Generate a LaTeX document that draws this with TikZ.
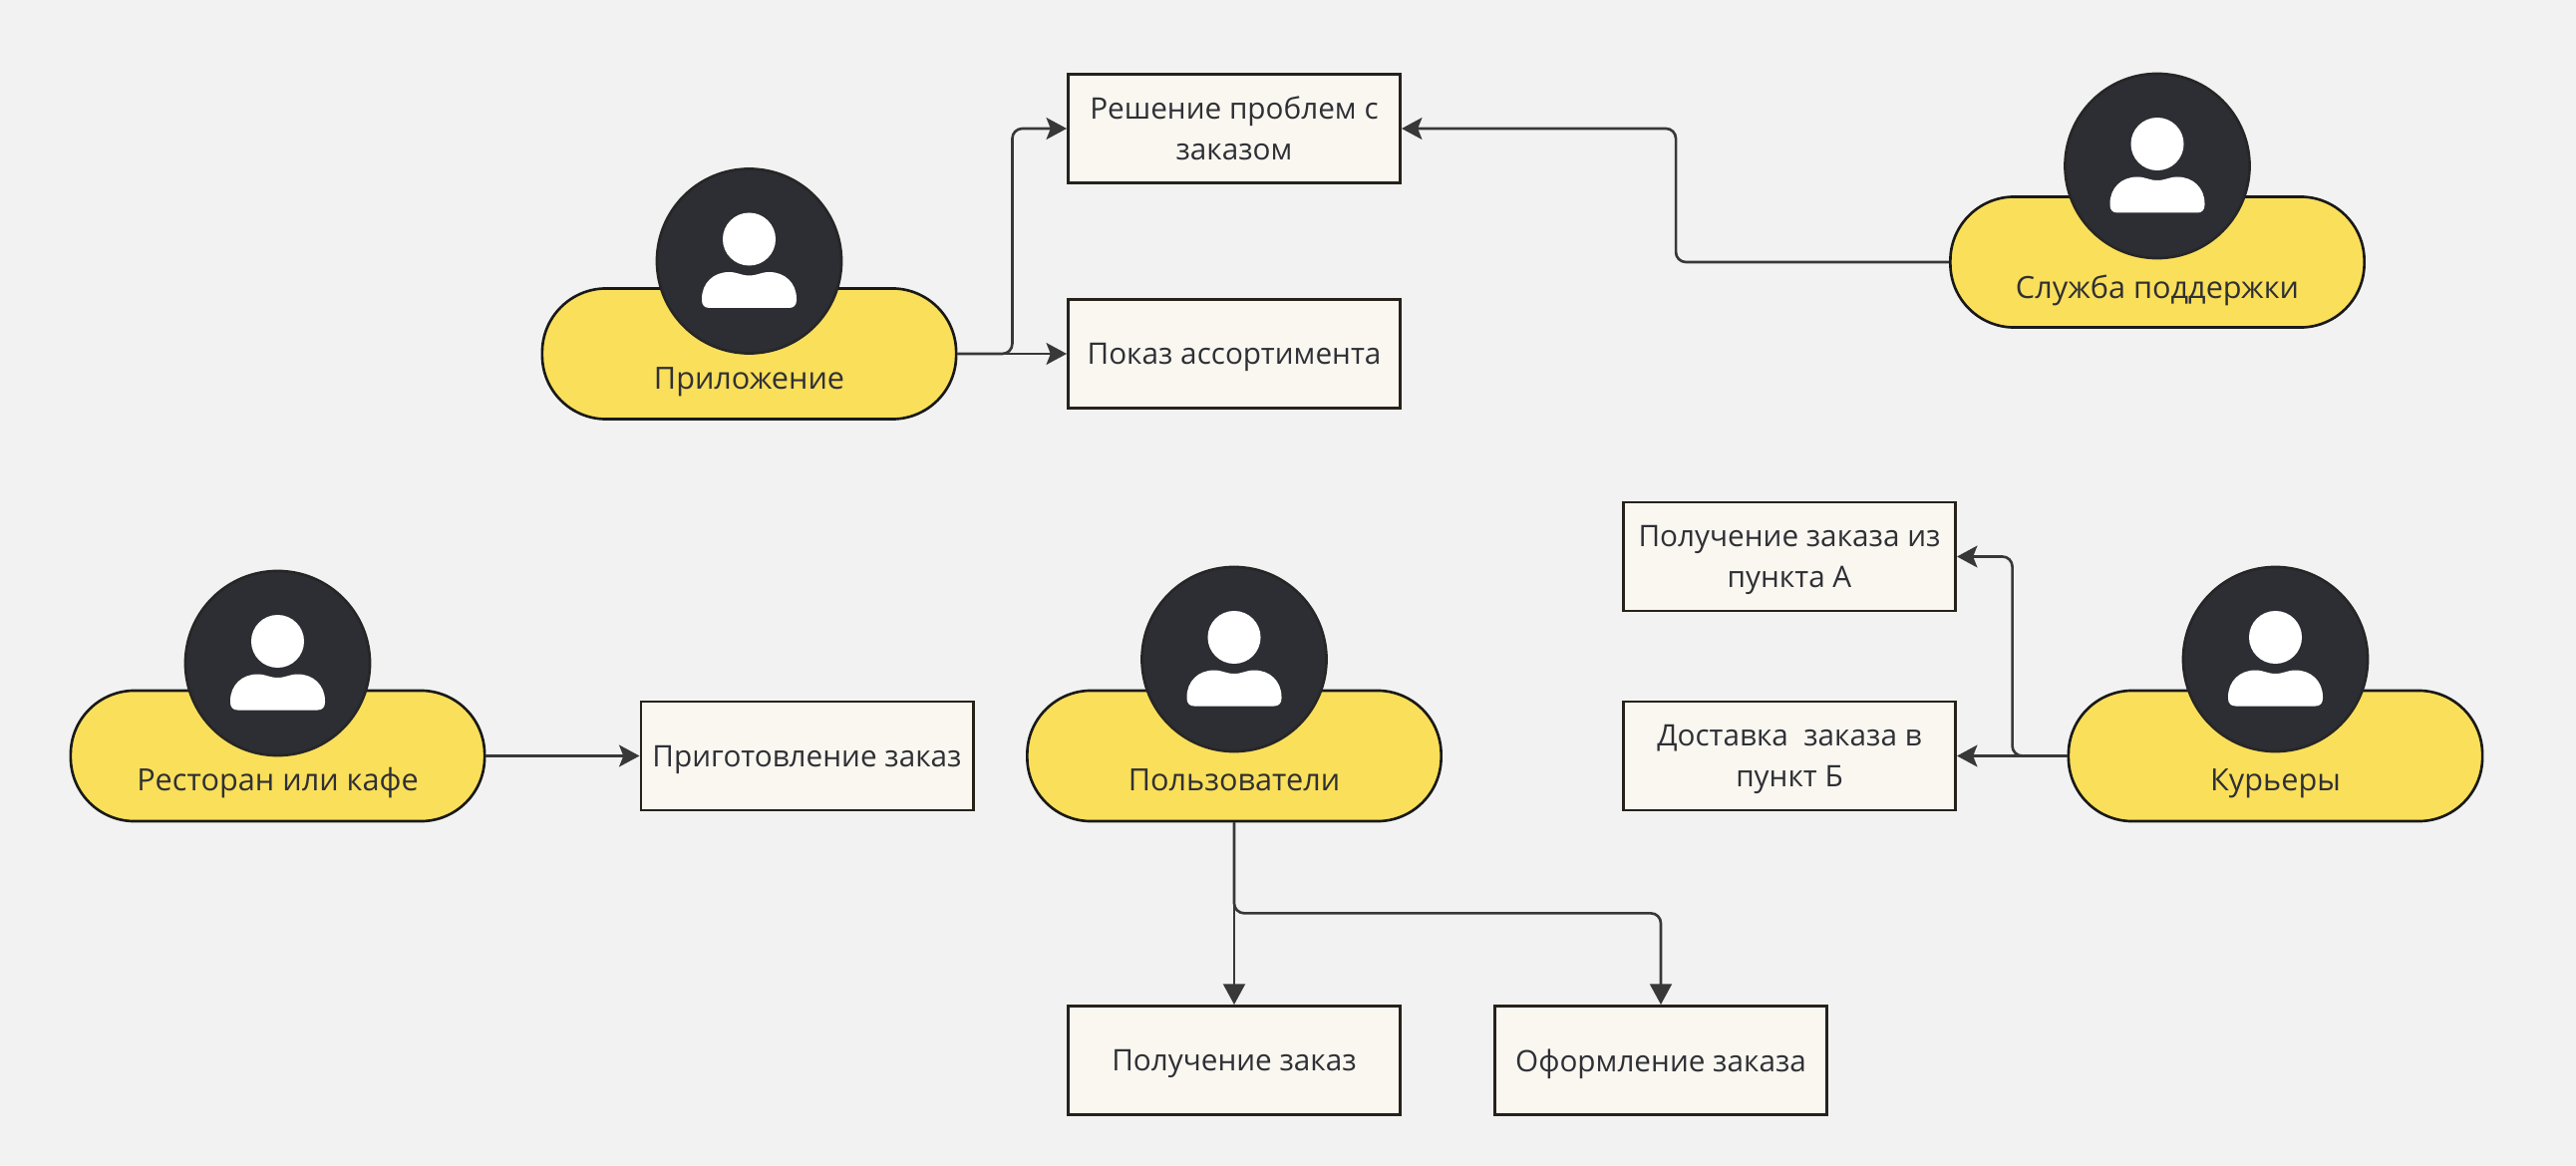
\documentclass[tikz,border=0pt]{standalone}
\usepackage{fontspec}
\setmainfont{Open Sans}
\usetikzlibrary{arrows.meta}

\definecolor{paper}{HTML}{F2F2F2}
\definecolor{pillfill}{HTML}{FADF5A}
\definecolor{boxfill}{HTML}{FAF7F1}
\definecolor{boxline}{HTML}{26221A}
\definecolor{facefill}{HTML}{2D2E33}
\definecolor{ink}{HTML}{2F3035}
\definecolor{wire}{HTML}{383838}

\tikzset{
  pill/.style={rectangle, draw=black!90, fill=pillfill, line width=0.75pt,
               rounded corners=0.64cm, minimum width=4.15cm, minimum height=1.31cm},
  pilltext/.style={anchor=base, text=ink, font=\fontsize{8.72}{11.7}\selectfont},
  face/.style={circle, draw=black!85, fill=facefill, line width=0.75pt,
               inner sep=0pt, minimum size=1.85cm},
  task/.style={rectangle, draw=boxline, fill=boxfill, line width=0.8pt, inner sep=0pt,
               minimum width=3.33cm, minimum height=1.09cm, align=center, text depth=0pt,
               text=ink, font=\fontsize{8.45}{11.7}\selectfont},
  link/.style={draw=wire, line width=0.75pt, rounded corners=0.1cm,
               -{Stealth[length=5.8pt, width=6.2pt, inset=1.2pt]}},
  downlink/.style={draw=wire, line width=0.75pt, rounded corners=0.1cm,
               -{Triangle[length=5.9pt, width=6.2pt]}},
  person/.pic={
    \fill[white] (0,-22) circle (0.265cm);
    \fill[white] (-40,47) -- (40,47) .. controls (45,47) and (47.5,44) .. (47.5,39)
      -- (47.5,38) .. controls (47.5,22) and (36,11) .. (20,11)
      .. controls (12,11) and (8,14.5) .. (0,14.5)
      .. controls (-8,14.5) and (-12,11) .. (-20,11)
      .. controls (-36,11) and (-47.5,22) .. (-47.5,38)
      -- (-47.5,39) .. controls (-47.5,44) and (-45,47) .. (-40,47) -- cycle;
  }
}

\begin{document}
\begin{tikzpicture}[x=0.01cm, y=-0.01cm]
  \fill[paper] (0,0) rectangle (2584,1170);
  \useasboundingbox (0,0) rectangle (2584,1170);

  % roles
  \node[pill] (app) at (751.5,355) {};
  \node[pilltext] (apptext) at ([yshift=-0.35cm]app.center) {Приложение};
  \node[face] (appface) at (751.5,262) {};
  \pic at (appface) {person};

  \node[pill] (support) at (2164,263) {};
  \node[pilltext] (supporttext) at ([yshift=-0.36cm]support.center) {Служба поддержки};
  \node[face] (supportface) at (2164,166.5) {};
  \pic at (supportface) {person};

  \node[pill] (cafe) at (278.5,758.5) {};
  \node[pilltext] (cafetext) at ([yshift=-0.35cm]cafe.center) {Ресторан или кафе};
  \node[face] (cafeface) at (278.5,665.5) {};
  \pic at (cafeface) {person};

  \node[pill] (users) at (1238,758.5) {};
  \node[pilltext] (userstext) at ([yshift=-0.35cm]users.center) {Пользователи};
  \node[face] (usersface) at (1238,661.5) {};
  \pic at (usersface) {person};

  \node[pill] (couriers) at (2282.5,758.5) {};
  \node[pilltext] (courierstext) at ([yshift=-0.35cm]couriers.center) {Курьеры};
  \node[face] (couriersface) at (2282.5,661.5) {};
  \pic at (couriersface) {person};

  % tasks
  \node[task] (problem) at (1238,129) {Решение проблем с\\заказом};
  \node[task] (catalog) at (1238,355) {Показ ассортимента};
  \node[task] (pickup) at (1795,558.5) {Получение заказа из\\пункта А};
  \node[task] (deliver) at (1795,758.5) {Доставка~ заказа в\\пункт Б};
  \node[task] (cook) at (809.5,758.5) {Приготовление заказ};
  \node[task] (receive) at (1238,1064) {Получение заказ};
  \node[task] (place) at (1666,1064) {Оформление заказа};

  % connectors
  \path[link] (app.east) -- ++(55,0) |- (problem.west);
  \path[link] (app.east) -- (catalog.west);
  \path[link] (support.west) -- ++(-274,0) |- (problem.east);
  \path[link] (cafe.east) -- (cook.west);
  \path[link] (couriers.west) -- ++(-55,0) |- (pickup.east);
  \path[link] (couriers.west) -- (deliver.east);
  \path[downlink] (users.south) -- (receive.north);
  \path[downlink] (users.south) -- ++(0,91) -| (place.north);
\end{tikzpicture}
\end{document}
